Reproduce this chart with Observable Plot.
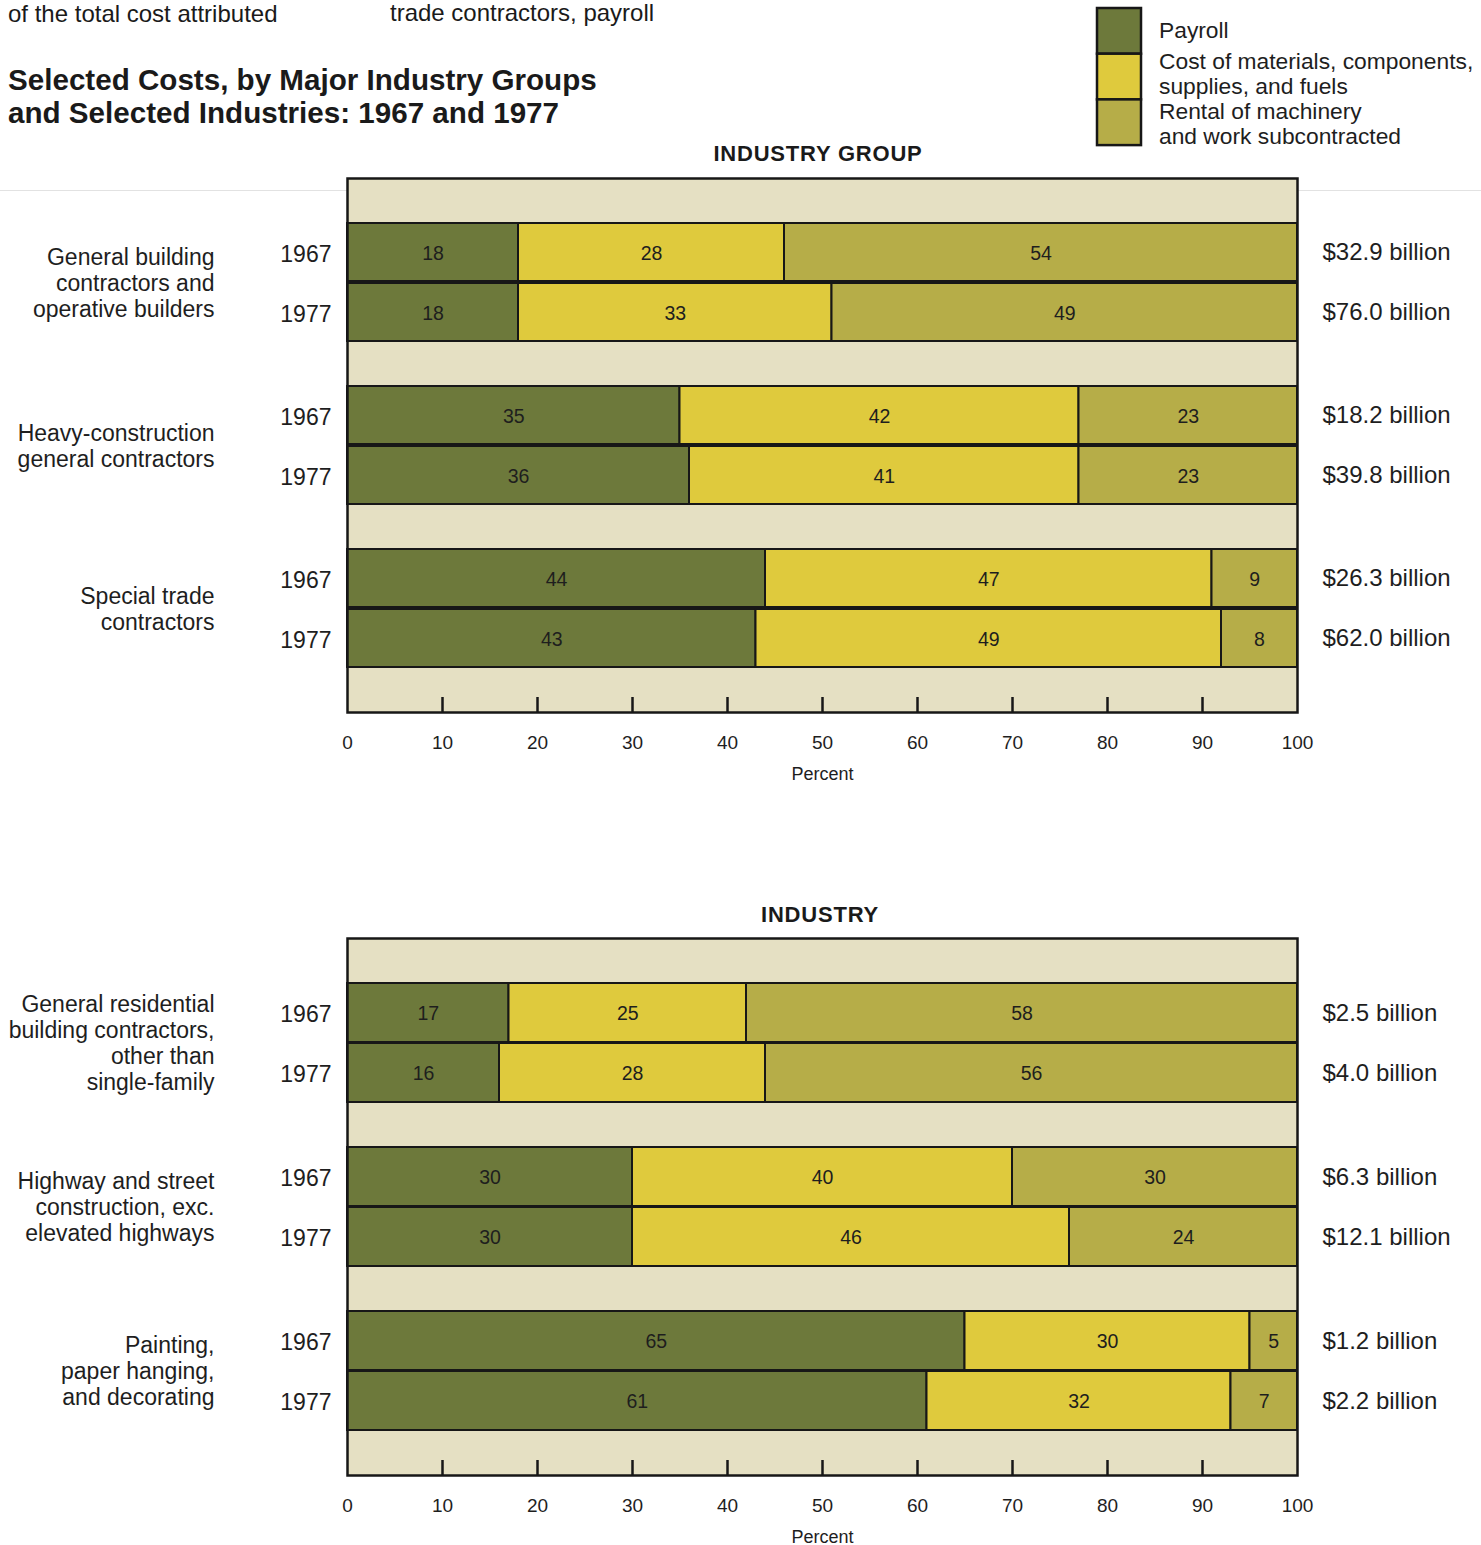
<!DOCTYPE html>
<html><head><meta charset="utf-8">
<script src="https://cdn.jsdelivr.net/npm/d3@7"></script>
<script src="https://cdn.jsdelivr.net/npm/@observablehq/plot@0.6"></script>
<style>
body{margin:0;background:#fff;width:1481px;height:1545px;position:relative;overflow:hidden;font-family:"Liberation Sans",Arial,sans-serif;color:#1a1a1a}
.abs{position:absolute;white-space:nowrap}
.ptitle{position:absolute;width:400px;text-align:center;font-weight:bold;font-size:22px;letter-spacing:0.8px;line-height:22px}
</style></head><body>
<div class="abs" style="left:8px;top:0px;font-size:24px;line-height:28px">of the total cost attributed</div>
<div class="abs" style="left:390px;top:-1px;font-size:24px;line-height:28px">trade contractors, payroll</div>
<div class="abs" style="left:8px;top:63px;font-size:29.6px;font-weight:bold;line-height:33px">Selected Costs, by Major Industry Groups<br>and Selected Industries: 1967 and 1977</div>
<div class="abs" style="left:0;top:190px;width:1481px;height:1px;background:#e2e2e2"></div>
<div class="ptitle" style="left:618px;top:143px">INDUSTRY GROUP</div>
<div class="ptitle" style="left:620px;top:904px">INDUSTRY</div>
<div id="legend" class="abs" style="left:1090px;top:0"></div>
<div id="p1" class="abs" style="left:0;top:165px"></div>
<div id="p2" class="abs" style="left:0;top:925px"></div>
<script>
const costTypes = ["Payroll", "Cost of materials, components, supplies, and fuels", "Rental of machinery and work subcontracted"];
const legendLines = [["Payroll"], ["Cost of materials, components,", "supplies, and fuels"], ["Rental of machinery", "and work subcontracted"]];
const colors = ["#6d793b", "#dfca3d", "#b6ad48"];
const beige = "#e5e0c3";
const years = ["1967", "1977"];
const xTicks = [0, 10, 20, 30, 40, 50, 60, 70, 80, 90, 100];

// Industry groups (values per group: 1967, 1977)
const groupNames = ["General building\ncontractors and\noperative builders", "Heavy-construction\ngeneral contractors", "Special trade\ncontractors"];
const groupPayroll   = [18, 18, 35, 36, 44, 43];
const groupMaterials = [28, 33, 42, 41, 47, 49];
const groupRental    = [54, 49, 23, 23, 9, 8];
const groupTotals = ["$32.9 billion", "$76.0 billion", "$18.2 billion", "$39.8 billion", "$26.3 billion", "$62.0 billion"];

// Industries
const industryNames = ["General residential\nbuilding contractors,\nother than\nsingle-family", "Highway and street\nconstruction, exc.\nelevated highways", "Painting,\npaper hanging,\nand decorating"];
const industryPayroll   = [17, 16, 30, 30, 65, 61];
const industryMaterials = [25, 28, 40, 46, 30, 32];
const industryRental    = [58, 56, 30, 24, 5, 7];
const industryTotals = ["$2.5 billion", "$4.0 billion", "$6.3 billion", "$12.1 billion", "$1.2 billion", "$2.2 billion"];

function panel(names, payroll, materials, rental, totals, innerH) {
  const rows = [], long = [];
  names.forEach((name, i) => years.forEach((year, j) => {
    const k = i * 2 + j;
    rows.push({name, year, total: totals[k]});
    [payroll[k], materials[k], rental[k]].forEach((v, c) => long.push({name, year, cost: costTypes[c], value: v}));
  }));
  const mT = 13, mB = 80, H = mT + innerH + mB;
  const half = 60;
  const ink = "#171717";
  const marks = [Plot.frame({fill: beige, stroke: "none"})];
  years.forEach((year, j) => {
    const first = j === 0;
    const dy = first ? -30 : 30;
    const d = long.filter(r => r.year === year);
    const r = rows.filter(r => r.year === year);
    marks.push(Plot.barX(d, Plot.stackX({x: "value", y: "name", z: "cost", fill: "cost", stroke: ink, strokeWidth: 2,
      insetTop: first ? 0 : half, insetBottom: first ? half : 0})));
    marks.push(Plot.text(d, Plot.stackX({x: "value", y: "name", z: "cost", text: v => String(v.value), dy: dy + 1, fontSize: 19.5, fill: "#1e1e1e"})));
    marks.push(Plot.text(r, {y: "name", text: "year", frameAnchor: "left", dx: -16, dy: dy + 2, textAnchor: "end", fontSize: 23, fill: "#1e1e1e"}));
    marks.push(Plot.text(r, {y: "name", text: "total", frameAnchor: "right", dx: 25, dy, textAnchor: "start", fontSize: 24, fill: "#1e1e1e"}));
  });
  marks.push(Plot.text(names, {y: v => v, text: v => v, frameAnchor: "left", dx: -133, textAnchor: "end", lineHeight: 1.13, fontSize: 23, fill: "#1e1e1e"}));
  marks.push(Plot.ruleX(xTicks.filter(t => t > 0 && t < 100), {x: v => v, insetTop: innerH - 15, stroke: ink, strokeWidth: 2.5}));
  marks.push(Plot.axisX(xTicks, {tickSize: 0, tickPadding: 23, fontSize: 19, label: null, fill: "#1e1e1e"}));
  marks.push(Plot.text(["Percent"], {text: v => v, frameAnchor: "bottom", dy: 67, fontSize: 18, fill: "#1e1e1e"}));
  marks.push(Plot.frame({stroke: ink, strokeWidth: 2.5}));
  return Plot.plot({
    width: 1481, height: H,
    marginLeft: 347, marginRight: 184, marginTop: mT, marginBottom: mB,
    x: {domain: [0, 100], label: null},
    y: {domain: names, paddingInner: 0.275, paddingOuter: 0.27, axis: null},
    color: {domain: costTypes, range: colors},
    style: {fontFamily: '"Liberation Sans", Arial, sans-serif', background: "transparent", overflow: "visible"},
    marks
  });
}

document.getElementById("p1").appendChild(panel(groupNames, groupPayroll, groupMaterials, groupRental, groupTotals, 534));
document.getElementById("p2").appendChild(panel(industryNames, industryPayroll, industryMaterials, industryRental, industryTotals, 537));

// Legend
const lg = d3.select("#legend").append("svg").attr("width", 391).attr("height", 152)
  .style("font-family", '"Liberation Sans", Arial, sans-serif');
const sh = 45.7;
lg.selectAll("rect").data(costTypes).join("rect")
  .attr("x", 7).attr("y", (d, i) => 8 + i * sh).attr("width", 44).attr("height", sh)
  .attr("fill", (d, i) => colors[i]).attr("stroke", "#171717").attr("stroke-width", 2.5);
const labelY = [[30], [61, 86], [111, 136]];
legendLines.forEach((lines, i) => lines.forEach((t, j) => {
  lg.append("text").attr("x", 69).attr("y", labelY[i][j]).attr("dy", "0.35em")
    .attr("font-size", 22.8).attr("fill", "#1e1e1e").text(t);
}));
</script>
</body></html>
